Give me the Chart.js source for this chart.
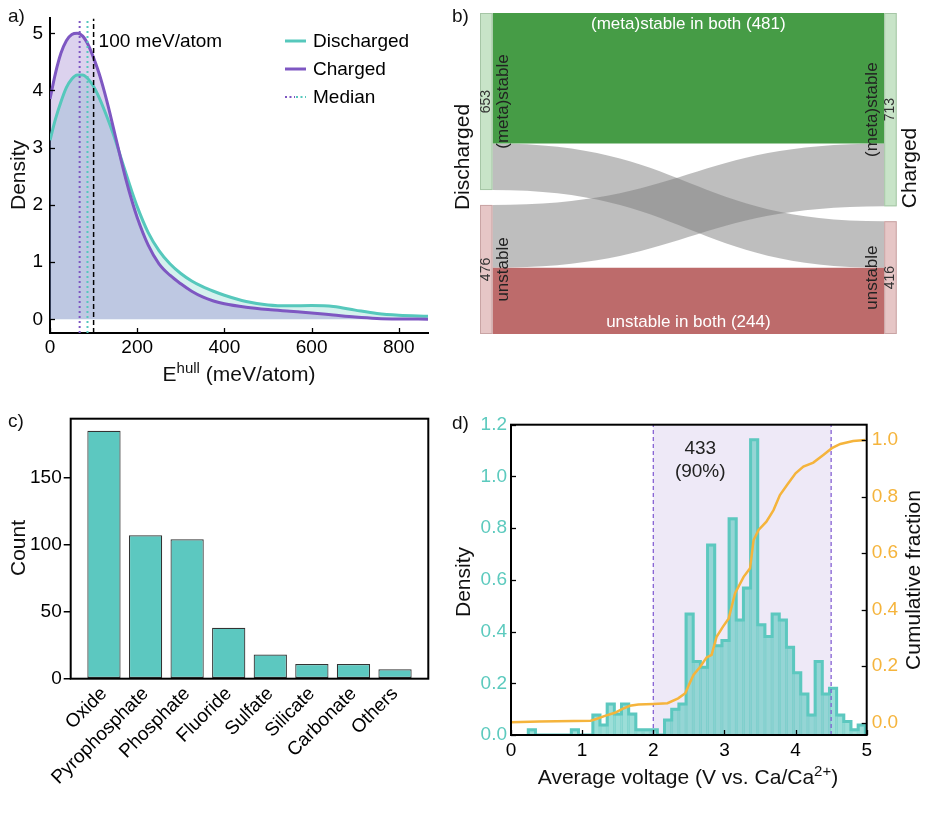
<!DOCTYPE html>
<html><head><meta charset="utf-8">
<script src="https://cdn.jsdelivr.net/npm/chart.js@4.4.1/dist/chart.umd.min.js"></script>
<style>
html,body{margin:0;padding:0;background:#fff;}
#wrap{position:relative;width:927px;height:820px;overflow:hidden;font-family:'Liberation Sans',Arial,Helvetica,sans-serif;color:#111;}
canvas{position:absolute;display:block;}
.t{position:absolute;white-space:nowrap;line-height:1;}
.r{transform:translate(-50%,-50%) rotate(-90deg);}
.c{transform:translate(-50%,-50%);}
.sup{font-size:15px;position:relative;top:-8px;}
</style></head><body>
<div id="wrap">
<canvas id="cA" width="440" height="400" style="left:0;top:0"></canvas>
<canvas id="cB" width="487" height="400" style="left:440px;top:0"></canvas>
<canvas id="cC" width="440" height="420" style="left:0;top:400px"></canvas>
<canvas id="cD" width="487" height="420" style="left:440px;top:400px"></canvas>
<div class="t" style="left:8px;top:6px;font-size:19px">a)</div>
<div class="t" style="left:452px;top:6px;font-size:19px">b)</div>
<div class="t" style="left:8px;top:411px;font-size:19px">c)</div>
<div class="t" style="left:452px;top:413px;font-size:19px">d)</div>
<div class="t r" style="left:17px;top:175px;font-size:21px">Density</div>
<div class="t c" style="left:239px;top:373px;font-size:21px">E<span class="sup">hull</span> (meV/atom)</div>
<div class="t r" style="left:461px;top:157px;font-size:21px">Discharged</div>
<div class="t r" style="left:908px;top:168px;font-size:21px">Charged</div>
<div class="t r" style="left:17px;top:548px;font-size:21px">Count</div>
<div class="t r" style="left:462px;top:582px;font-size:21px">Density</div>
<div class="t r" style="left:912px;top:580px;font-size:21px">Cumulative fraction</div>
<div class="t c" style="left:688px;top:776px;font-size:21px">Average voltage (V vs. Ca/Ca<span class="sup">2+</span>)</div>
</div>
<script>
// ================= DATA =================
// Panel a: KDE of energy above hull
const kdeEnergy = [0,12.5,25,37.5,50,62.5,75,87.5,100,112.5,125,137.5,150,162.5,175,187.5,200,225,250,275,300,325,350,375,400,450,500,550,600,650,700,750,800,867];
const kdeDischarged = [3.13,3.5,3.8,4.05,4.2,4.27,4.27,4.2,4.07,3.88,3.65,3.4,3.13,2.83,2.53,2.24,1.97,1.52,1.2,0.97,0.8,0.67,0.57,0.49,0.42,0.31,0.25,0.235,0.24,0.225,0.16,0.1,0.07,0.055];
const kdeCharged = [3.85,4.3,4.65,4.87,4.98,5.0,4.95,4.8,4.57,4.3,3.97,3.6,3.2,2.8,2.42,2.08,1.78,1.3,0.97,0.77,0.62,0.49,0.39,0.32,0.27,0.21,0.17,0.14,0.11,0.075,0.04,0.015,0.005,0.002];
const medianCharged = 68;
const medianDischarged = 86;
const cutoffValue = 100;
const cutoffLabel = '100 meV/atom';
const legendLabelsA = ['Discharged','Charged','Median'];
const aXTicks = [0,200,400,600,800];
const aYTicks = [0,1,2,3,4,5];

// Panel b: Sankey
const sankeyNodeNames = ['(meta)stable','unstable'];
const flowSource = [0,0,1,1];
const flowTarget = [0,1,0,1];
const flowValue  = [481,172,232,244];
const flowLabels = ['(meta)stable in both (481)','','','unstable in both (244)'];

// Panel c: anion types
const anionCats = ['Oxide','Pyrophosphate','Phosphate','Fluoride','Sulfate','Silicate','Carbonate','Others'];
const anionCounts = [185,107,104,38,18,11,11,7];
const cYTicks = [0,50,100,150];

// Panel d: voltage histogram + cumulative fraction
const histBinStart = 0.243;
const histBinWidth = 0.1008;
const histDensity = [0.02,0,0,0,0,0,0.02,0,0,0.077,0.039,0.12,0.081,0.12,0.081,0.02,0.02,0.02,0,0.058,0.1,0.12,
  0.468,0.284,0.262,0.735,0.345,0.365,0.836,0.445,0.568,1.142,0.426,0.381,0.468,0.445,0.339,0.241,0.159,0.077,
  0.284,0.159,0.181,0.077,0.052,0.02,0.039];
const cdfVoltage = [0,0.4,1.12,1.2,1.32,1.46,1.56,1.67,1.79,2.0,2.2,2.35,2.45,2.5,2.565,2.66,2.75,2.82,2.89,2.98,3.06,3.15,3.27,3.36,3.41,3.48,3.59,3.69,3.78,3.88,4.0,4.11,4.25,4.39,4.51,4.63,4.81,4.98];
const cdfFraction = [0.002,0.004,0.007,0.013,0.024,0.035,0.048,0.06,0.064,0.066,0.069,0.086,0.104,0.133,0.169,0.198,0.231,0.24,0.304,0.34,0.369,0.458,0.516,0.546,0.646,0.682,0.711,0.752,0.805,0.841,0.882,0.906,0.92,0.947,0.971,0.986,0.996,1.0];
const windowLow = 2.0, windowHigh = 4.5;
const windowCount = '433', windowPct = '(90%)';
const dXTicks = [0,1,2,3,4,5];
const dYTicks = [0,0.2,0.4,0.6,0.8,1.0,1.2];
const dY2Ticks = [0,0.2,0.4,0.6,0.8,1.0];

// ================= STYLE =================
const FONT = "'Liberation Sans', Arial, Helvetica, sans-serif";
Chart.defaults.font.family = FONT;
Chart.defaults.color = '#000';
const TEAL = '#56c8bc';
const PURPLE = '#7e57c2';
const ORANGE = '#f5b43c';
const tickFont = {size:19};
const noGrid = {display:false, drawTicks:false, drawOnChartArea:false};

const inTicks = {
  id:'inTicks',
  afterDatasetsDraw(chart, args, opts){
    const ctx = chart.ctx, ca = chart.chartArea, L = opts.len || 5;
    ctx.save(); ctx.strokeStyle = '#000'; ctx.lineWidth = opts.width || 1.3;
    (opts.axes || []).forEach(id => {
      const s = chart.scales[id];
      s.ticks.forEach(t => {
        const p = Math.round(s.getPixelForValue(t.value)) + 0.5;
        ctx.beginPath();
        if (s.isHorizontal()) { ctx.moveTo(p, ca.bottom); ctx.lineTo(p, ca.bottom - L); }
        else if (s.position === 'left') { ctx.moveTo(ca.left, p); ctx.lineTo(ca.left + L, p); }
        else { ctx.moveTo(ca.right, p); ctx.lineTo(ca.right - L, p); }
        ctx.stroke();
      });
    });
    ctx.restore();
  }
};
const boxPlugin = {
  id:'box',
  afterDraw(chart){
    const ctx = chart.ctx, ca = chart.chartArea;
    ctx.save(); ctx.strokeStyle = '#000'; ctx.lineWidth = 2;
    ctx.strokeRect(ca.left, ca.top, ca.right - ca.left, ca.bottom - ca.top);
    ctx.restore();
  }
};
function fixedTicks(arr){ return s => { s.ticks = arr.map(v => ({value:v})); }; }

// ================= PANEL A =================
const aDecor = {
  id:'aDecor',
  afterDraw(chart){
    const ctx = chart.ctx, xs = chart.scales.x, ys = chart.scales.y;
    ctx.save();
    ctx.font = '19px ' + FONT; ctx.fillStyle = '#000'; ctx.textBaseline = 'middle'; ctx.textAlign = 'left';
    ctx.fillText(cutoffLabel, xs.getPixelForValue(cutoffValue) + 5, ys.getPixelForValue(4.86));
    const lx0 = 285, lx1 = 306, tx = 313;
    legendLabelsA.forEach((lab, i) => {
      const y = 41 + i * 28;
      ctx.lineWidth = 3;
      if (i < 2) {
        ctx.strokeStyle = i === 0 ? TEAL : PURPLE;
        ctx.beginPath(); ctx.moveTo(lx0, y); ctx.lineTo(lx1, y); ctx.stroke();
      } else {
        ctx.lineWidth = 2; ctx.setLineDash([2,2.5]);
        ctx.strokeStyle = PURPLE; ctx.beginPath(); ctx.moveTo(lx0, y); ctx.lineTo(lx0 + 10, y); ctx.stroke();
        ctx.strokeStyle = TEAL; ctx.beginPath(); ctx.moveTo(lx0 + 11, y); ctx.lineTo(lx1, y); ctx.stroke();
        ctx.setLineDash([]);
      }
      ctx.fillStyle = '#000';
      ctx.fillText(lab, tx, y + 1);
    });
    ctx.restore();
  }
};
const aYmin = -0.24, aYmax = 5.26;
new Chart(document.getElementById('cA'), {
  type:'line',
  data:{datasets:[
    {label:'Discharged', data:kdeEnergy.map((e,i)=>({x:e,y:kdeDischarged[i]})), borderColor:TEAL, backgroundColor:'rgba(86,200,188,0.25)',
     fill:'origin', borderWidth:3, pointRadius:0, tension:0.4, cubicInterpolationMode:'monotone', order:3},
    {label:'Charged', data:kdeEnergy.map((e,i)=>({x:e,y:kdeCharged[i]})), borderColor:PURPLE, backgroundColor:'rgba(126,87,194,0.27)',
     fill:'origin', borderWidth:3, pointRadius:0, tension:0.4, cubicInterpolationMode:'monotone', order:2},
    {label:'Median charged', data:[{x:medianCharged,y:aYmin},{x:medianCharged,y:aYmax}], borderColor:PURPLE, borderWidth:2, borderDash:[2,3], pointRadius:0, fill:false, order:1},
    {label:'Median discharged', data:[{x:medianDischarged,y:aYmin},{x:medianDischarged,y:aYmax}], borderColor:TEAL, borderWidth:2, borderDash:[2,3], pointRadius:0, fill:false, order:1},
    {label:'Cutoff', data:[{x:cutoffValue,y:aYmin},{x:cutoffValue,y:aYmax}], borderColor:'#000', borderWidth:1.5, borderDash:[5,3], pointRadius:0, fill:false, order:0}
  ]},
  options:{
    responsive:false, animation:false, events:[],
    layout:{padding:{top:15,right:12,left:0,bottom:0}},
    plugins:{legend:{display:false}, tooltip:{enabled:false}, filler:{drawTime:'beforeDatasetsDraw'}, inTicks:{axes:['x','y']}},
    scales:{
      x:{type:'linear', min:0, max:867, afterFit:s=>{s.height=67;}, afterBuildTicks:fixedTicks(aXTicks),
         grid:noGrid, border:{display:true,color:'#000',width:2}, ticks:{font:tickFont,color:'#000',padding:3,maxRotation:0}},
      y:{type:'linear', min:aYmin, max:aYmax, afterFit:s=>{s.width=50;}, afterBuildTicks:fixedTicks(aYTicks),
         grid:noGrid, border:{display:true,color:'#000',width:2}, ticks:{font:tickFont,color:'#000',padding:7}}
    }
  },
  plugins:[inTicks, aDecor]
});

// ================= PANEL B =================
const nodeGap = 55;
const sankeyPlugin = {
  id:'sankey',
  afterDatasetsDraw(chart){
    const ctx = chart.ctx, xs = chart.scales.x, ys = chart.scales.y;
    const n = sankeyNodeNames.length;
    const outTot = Array(n).fill(0), inTot = Array(n).fill(0);
    flowValue.forEach((v,i)=>{ outTot[flowSource[i]] += v; inTot[flowTarget[i]] += v; });
    const lStart = [], rStart = []; let acc = 0;
    for (let i=0;i<n;i++){ lStart[i]=acc; acc += outTot[i] + nodeGap; }
    acc = 0;
    for (let i=0;i<n;i++){ rStart[i]=acc; acc += inTot[i] + nodeGap; }
    const nodeW = 12.5;
    const xl = xs.getPixelForValue(0), xr = xs.getPixelForValue(1);
    const x0 = xl + nodeW, x1 = xr - nodeW, xm = (x0 + x1) / 2;
    const sOff = lStart.slice(), tOff = rStart.slice();
    const bands = flowValue.map((v,i)=>{
      const s = flowSource[i], t = flowTarget[i];
      const b = {i, s, t, v, sTop:sOff[s], tTop:tOff[t]};
      sOff[s] += v; tOff[t] += v; return b;
    });
    const nodeFill = ['#c8e4c8','#e6c6c6'], nodeStroke = ['#a6c6a6','#c9a4a4'];
    const sameFill = ['#469c46','#bd6b6b'];
    const drawBand = (b) => {
      const yA0 = ys.getPixelForValue(b.sTop), yA1 = ys.getPixelForValue(b.sTop + b.v);
      const yB0 = ys.getPixelForValue(b.tTop), yB1 = ys.getPixelForValue(b.tTop + b.v);
      ctx.beginPath();
      ctx.moveTo(x0, yA0);
      ctx.bezierCurveTo(xm, yA0, xm, yB0, x1, yB0);
      ctx.lineTo(x1, yB1);
      ctx.bezierCurveTo(xm, yB1, xm, yA1, x0, yA1);
      ctx.closePath(); ctx.fill();
    };
    ctx.save();
    bands.filter(b=>b.s!==b.t).forEach(b=>{ ctx.fillStyle='rgba(126,126,126,0.5)'; drawBand(b); });
    bands.filter(b=>b.s===b.t).forEach(b=>{ ctx.fillStyle=sameFill[b.s]; drawBand(b); });
    ctx.lineWidth = 1;
    for (let i=0;i<n;i++){
      const yT = ys.getPixelForValue(lStart[i]), yB = ys.getPixelForValue(lStart[i]+outTot[i]);
      ctx.fillStyle = nodeFill[i]; ctx.strokeStyle = nodeStroke[i];
      ctx.fillRect(xl, yT, nodeW, yB-yT); ctx.strokeRect(xl+0.5, yT+0.5, nodeW-1, yB-yT-1);
      const yT2 = ys.getPixelForValue(rStart[i]), yB2 = ys.getPixelForValue(rStart[i]+inTot[i]);
      ctx.fillRect(xr-nodeW, yT2, nodeW, yB2-yT2); ctx.strokeRect(xr-nodeW+0.5, yT2+0.5, nodeW-1, yB2-yT2-1);
    }
    const rot = (txt, x, y, font, color) => {
      ctx.save(); ctx.translate(x, y); ctx.rotate(-Math.PI/2);
      ctx.font = font; ctx.fillStyle = color; ctx.textAlign = 'center'; ctx.textBaseline = 'middle';
      ctx.fillText(txt, 0, 0); ctx.restore();
    };
    for (let i=0;i<n;i++){
      const yc = (ys.getPixelForValue(lStart[i]) + ys.getPixelForValue(lStart[i]+outTot[i]))/2;
      rot(String(outTot[i]), xl + nodeW/2, yc, '14px ' + FONT, '#333');
      rot(sankeyNodeNames[i], x0 + 11, yc, '17px ' + FONT, '#222');
      const yc2 = (ys.getPixelForValue(rStart[i]) + ys.getPixelForValue(rStart[i]+inTot[i]))/2;
      rot(String(inTot[i]), xr - nodeW/2, yc2, '14px ' + FONT, '#333');
      rot(sankeyNodeNames[i], x1 - 12, yc2, '17px ' + FONT, '#222');
    }
    ctx.font = '17px ' + FONT; ctx.fillStyle = '#fff'; ctx.textAlign = 'center'; ctx.textBaseline = 'middle';
    bands.forEach(b=>{
      if (!flowLabels[b.i]) return;
      const yT = ys.getPixelForValue(b.sTop), yB = ys.getPixelForValue(b.sTop + b.v);
      const y = b.s === 0 ? yT + 11 : yB - 12;
      ctx.fillText(flowLabels[b.i], xm, y);
    });
    ctx.restore();
  }
};
const sankeyTotal = flowValue.reduce((a,b)=>a+b,0) + nodeGap;
new Chart(document.getElementById('cB'), {
  type:'scatter',
  data:{datasets:[]},
  options:{
    responsive:false, animation:false, events:[],
    layout:{padding:{left:40,right:30.3,top:13,bottom:66}},
    plugins:{legend:{display:false}, tooltip:{enabled:false}},
    scales:{
      x:{type:'linear', display:false, min:0, max:1},
      y:{type:'linear', display:false, min:0, max:sankeyTotal, reverse:true}
    }
  },
  plugins:[sankeyPlugin]
});

// ================= PANEL C =================
new Chart(document.getElementById('cC'), {
  type:'bar',
  data:{datasets:[{label:'Count', data:anionCounts.map((v,i)=>({x:i,y:v})), backgroundColor:'#5cc8c0', borderColor:'#333', borderWidth:1.2,
    borderSkipped:false, barPercentage:1, categoryPercentage:0.8}]},
  options:{
    responsive:false, animation:false, events:[],
    layout:{padding:{top:18.7,right:11.7,left:0,bottom:0}},
    plugins:{legend:{display:false}, tooltip:{enabled:false}},
    scales:{
      x:{type:'linear', min:-0.8, max:7.8, offset:false, afterFit:s=>{s.height=141.3;}, afterBuildTicks:fixedTicks(anionCats.map((c,i)=>i)),
         grid:noGrid, border:{display:false},
         ticks:{font:tickFont, color:'#000', padding:4, minRotation:45, maxRotation:45, autoSkip:false, callback:v=>anionCats[v]}},
      y:{type:'linear', min:0, max:194, afterFit:s=>{s.width=70.7;}, afterBuildTicks:fixedTicks(cYTicks),
         grid:{display:true, drawOnChartArea:false, drawTicks:true, tickLength:7, color:'#000', lineWidth:1.5}, border:{display:false},
         ticks:{font:tickFont, color:'#000', padding:2}}
    }
  },
  plugins:[boxPlugin]
});

// ================= PANEL D =================
const dDecor = {
  id:'dDecor',
  beforeDatasetsDraw(chart){
    const ctx = chart.ctx, xs = chart.scales.x, ca = chart.chartArea;
    const a = xs.getPixelForValue(windowLow), b = xs.getPixelForValue(windowHigh);
    ctx.save(); ctx.fillStyle = 'rgba(126,87,194,0.13)'; ctx.fillRect(a, ca.top, b-a, ca.bottom-ca.top); ctx.restore();
  },
  afterDatasetsDraw(chart){
    const ctx = chart.ctx, xs = chart.scales.x, ys = chart.scales.y;
    ctx.save(); ctx.font = '19px ' + FONT; ctx.fillStyle = '#222'; ctx.textAlign='center'; ctx.textBaseline='middle';
    const x = xs.getPixelForValue(2.66);
    ctx.fillText(windowCount, x, ys.getPixelForValue(1.106));
    ctx.fillText(windowPct, x, ys.getPixelForValue(1.019));
    ctx.restore();
  }
};
const binLeft = histDensity.map((h,k)=>histBinStart + k*histBinWidth);
const stepData = [{x:binLeft[0], y:0}].concat(histDensity.map((h,k)=>({x:binLeft[k], y:h})))
  .concat([{x:binLeft[binLeft.length-1]+histBinWidth, y:0}]);
new Chart(document.getElementById('cD'), {
  type:'bar',
  data:{datasets:[
    {type:'line', label:'Cumulative fraction', data:cdfVoltage.map((v,i)=>({x:v,y:cdfFraction[i]})), yAxisID:'y2',
     borderColor:ORANGE, borderWidth:2.5, pointRadius:0, tension:0, fill:false, order:0},
    {type:'line', label:'low', data:[{x:windowLow,y:0},{x:windowLow,y:1.2}], yAxisID:'y', borderColor:'#7c55d0', borderWidth:1.2, borderDash:[4,3], pointRadius:0, fill:false, order:1},
    {type:'line', label:'high', data:[{x:windowHigh,y:0},{x:windowHigh,y:1.2}], yAxisID:'y', borderColor:'#7c55d0', borderWidth:1.2, borderDash:[4,3], pointRadius:0, fill:false, order:1},
    {type:'line', label:'outline', data:stepData, yAxisID:'y', stepped:true, borderColor:'#5cc8bf', borderWidth:3, pointRadius:0, fill:false, order:2},
    {type:'bar', label:'Density', data:histDensity.map((h,k)=>({x:binLeft[k]+histBinWidth/2, y:h})), yAxisID:'y',
     backgroundColor:'rgba(90,200,190,0.6)', borderColor:'rgba(80,195,185,0.55)', borderWidth:1, borderSkipped:'bottom',
     barPercentage:1, categoryPercentage:1, order:3}
  ]},
  options:{
    responsive:false, animation:false, events:[],
    layout:{padding:{top:24.7,right:0,left:0,bottom:0}},
    plugins:{legend:{display:false}, tooltip:{enabled:false}, inTicks:{axes:['x','y','y2']}},
    scales:{
      x:{type:'linear', min:0, max:5, offset:false, afterFit:s=>{s.height=85;}, afterBuildTicks:fixedTicks(dXTicks),
         grid:noGrid, border:{display:false}, ticks:{font:tickFont, color:'#000', padding:4, maxRotation:0}},
      y:{type:'linear', position:'left', min:0, max:1.2, afterFit:s=>{s.width=71;}, afterBuildTicks:fixedTicks(dYTicks),
         grid:noGrid, border:{display:false}, ticks:{font:tickFont, color:'#5ccabe', padding:4, callback:v=>v.toFixed(1)}},
      y2:{type:'linear', position:'right', min:-0.0435, max:1.054, afterFit:s=>{s.width=60.3;}, afterBuildTicks:fixedTicks(dY2Ticks),
         grid:noGrid, border:{display:false}, ticks:{font:tickFont, color:ORANGE, padding:5, callback:v=>v.toFixed(1)}}
    }
  },
  plugins:[dDecor, inTicks, boxPlugin]
});
</script>
</body></html>
